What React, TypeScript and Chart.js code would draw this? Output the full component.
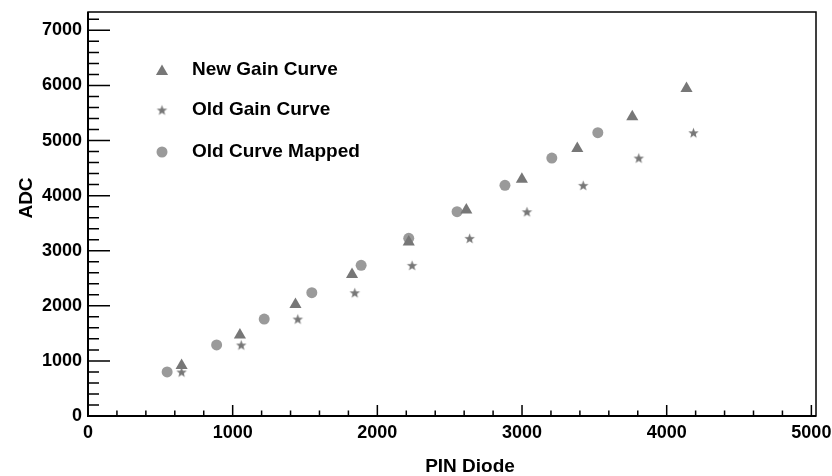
import { useEffect, useRef } from "react"
import { Chart, registerables } from "chart.js"

Chart.register(...registerables)

// PIN diode readings (x) and ADC values (y) for each curve
const pinNewGain = [647, 1050, 1434, 1825, 2217, 2615, 2999, 3382, 3762, 4137]
const adcNewGain = [915, 1470, 2025, 2570, 3160, 3740, 4295, 4855, 5430, 5945]
const pinOldGain = [647, 1059, 1450, 1844, 2240, 2638, 3034, 3423, 3807, 4185]
const adcOldGain = [799, 1289, 1760, 2238, 2735, 3225, 3708, 4187, 4682, 5142]
const pinMapped = [547, 889, 1218, 1547, 1888, 2217, 2551, 2882, 3206, 3524]
const adcMapped = [799, 1289, 1760, 2238, 2735, 3225, 3708, 4187, 4682, 5142]

const seriesNames = ["New Gain Curve", "Old Gain Curve", "Old Curve Mapped"]
const xTicks = [0, 1000, 2000, 3000, 4000, 5000]
const yTicks = [0, 1000, 2000, 3000, 4000, 5000, 6000, 7000]

const FONT = "'Liberation Sans', Arial, Helvetica, sans-serif"
const DARK = "#777777"
const LIGHT = "#9a9a9a"

function makeStar(color: string, outer: number, inner: number) {
  const size = Math.ceil(outer * 2 + 2)
  const c = document.createElement("canvas")
  c.width = size
  c.height = size
  const g = c.getContext("2d")!
  g.fillStyle = color
  g.beginPath()
  for (let i = 0; i < 10; i++) {
    const r = i % 2 === 0 ? outer : inner
    const a = -Math.PI / 2 + (i * Math.PI) / 5
    const px = size / 2 + r * Math.cos(a)
    const py = size / 2 + 0.5 + r * Math.sin(a)
    if (i === 0) g.moveTo(px, py)
    else g.lineTo(px, py)
  }
  g.closePath()
  g.fill()
  return c
}

const toPoints = (xs: number[], ys: number[]) => xs.map((x, i) => ({ x, y: ys[i] }))

export default function App() {
  const chartRef = useRef<HTMLCanvasElement>(null)
  const chartInstance = useRef<Chart | null>(null)

  useEffect(() => {
    if (!chartRef.current) return
    const ctx = chartRef.current.getContext("2d")
    if (!ctx) return

    if (chartInstance.current) {
      chartInstance.current.destroy()
    }

    const star = makeStar(DARK, 5.5, 2.3)

    // ROOT-like frame with inward ticks, axis titles and legend
    const rootFrame = {
      id: "rootFrame",
      afterDatasetsDraw(chart: any) {
        const { ctx: c, chartArea: a, scales } = chart
        const xs = scales.x
        const ys = scales.y
        c.save()
        c.strokeStyle = "#000"
        c.lineWidth = 1.5
        c.beginPath()
        for (let i = 0; i * 200 <= xs.max; i++) {
          const px = xs.getPixelForValue(i * 200)
          const len = i % 5 === 0 ? 11 : 5.5
          c.moveTo(px, a.bottom)
          c.lineTo(px, a.bottom - len)
        }
        for (let i = 0; i * 200 <= ys.max; i++) {
          const py = ys.getPixelForValue(i * 200)
          const len = i % 5 === 0 ? 22 : 11
          c.moveTo(a.left, py)
          c.lineTo(a.left + len, py)
        }
        c.stroke()
        c.strokeRect(a.left, a.top, a.right - a.left, a.bottom - a.top)
        c.lineWidth = 2
        c.beginPath()
        c.moveTo(a.left, a.top)
        c.lineTo(a.left, a.bottom)
        c.lineTo(a.right, a.bottom)
        c.stroke()

        // axis titles
        c.fillStyle = "#000"
        c.font = `bold 19px ${FONT}`
        c.textAlign = "center"
        c.textBaseline = "middle"
        c.fillText("PIN Diode", 470, 467)
        c.save()
        c.translate(27, 198)
        c.rotate(-Math.PI / 2)
        c.fillText("ADC", 0, 0)
        c.restore()

        // legend
        const lx = 162
        const rows = [71.5, 110, 152]
        c.fillStyle = DARK
        c.beginPath()
        c.moveTo(lx, rows[0] - 7)
        c.lineTo(lx + 6.06, rows[0] + 3.5)
        c.lineTo(lx - 6.06, rows[0] + 3.5)
        c.closePath()
        c.fill()
        c.drawImage(star, lx - star.width / 2, rows[1] - star.height / 2)
        c.fillStyle = LIGHT
        c.beginPath()
        c.arc(lx, rows[2], 5.5, 0, Math.PI * 2)
        c.fill()
        c.fillStyle = "#000"
        c.textAlign = "left"
        c.fillText(seriesNames[0], 192, 70)
        c.fillText(seriesNames[1], 192, 110)
        c.fillText(seriesNames[2], 192, 152)
        c.restore()
      },
    }

    chartInstance.current = new Chart(ctx, {
      type: "scatter",
      data: {
        datasets: [
          {
            label: seriesNames[0],
            data: toPoints(pinNewGain, adcNewGain),
            pointStyle: "triangle",
            pointRadius: 7,
            backgroundColor: DARK,
            borderColor: DARK,
            borderWidth: 0,
          },
          {
            label: seriesNames[1],
            data: toPoints(pinOldGain, adcOldGain),
            pointStyle: star,
            pointRadius: 6,
            backgroundColor: DARK,
            borderColor: DARK,
            borderWidth: 0,
          },
          {
            label: seriesNames[2],
            data: toPoints(pinMapped, adcMapped),
            pointStyle: "circle",
            pointRadius: 5.5,
            backgroundColor: LIGHT,
            borderColor: LIGHT,
            borderWidth: 0,
          },
        ],
      },
      options: {
        animation: false,
        responsive: true,
        maintainAspectRatio: false,
        layout: {
          padding: { top: 12, right: 16, left: 0, bottom: 0 },
        },
        plugins: {
          legend: { display: false },
          tooltip: { enabled: false },
        },
        scales: {
          x: {
            type: "linear",
            min: 0,
            max: 5032,
            grid: { display: false, drawTicks: false },
            border: { display: false },
            afterBuildTicks: (scale: any) => {
              scale.ticks = xTicks.map((value) => ({ value }))
            },
            afterFit: (scale: any) => {
              scale.height = 60
              scale.paddingLeft = 0
              scale.paddingRight = 0
            },
            ticks: {
              padding: 6,
              color: "#000",
              maxRotation: 0,
              font: { family: FONT, weight: "bold", size: 18 },
              callback: (value: any) => String(value),
            },
          },
          y: {
            type: "linear",
            min: 0,
            max: 7333,
            grid: { display: false, drawTicks: false },
            border: { display: false },
            afterBuildTicks: (scale: any) => {
              scale.ticks = yTicks.map((value) => ({ value }))
            },
            afterFit: (scale: any) => {
              scale.width = 88
              scale.paddingTop = 0
              scale.paddingBottom = 0
            },
            ticks: {
              padding: 6,
              color: "#000",
              font: { family: FONT, weight: "bold", size: 18 },
              callback: (value: any) => String(value),
            },
          },
        },
      },
      plugins: [rootFrame],
    })

    return () => {
      if (chartInstance.current) {
        chartInstance.current.destroy()
        chartInstance.current = null
      }
    }
  }, [])

  return (
    <div style={{ position: "fixed", left: 0, top: 0, width: 832, height: 476, background: "#fff" }}>
      <canvas ref={chartRef} />
    </div>
  )
}
